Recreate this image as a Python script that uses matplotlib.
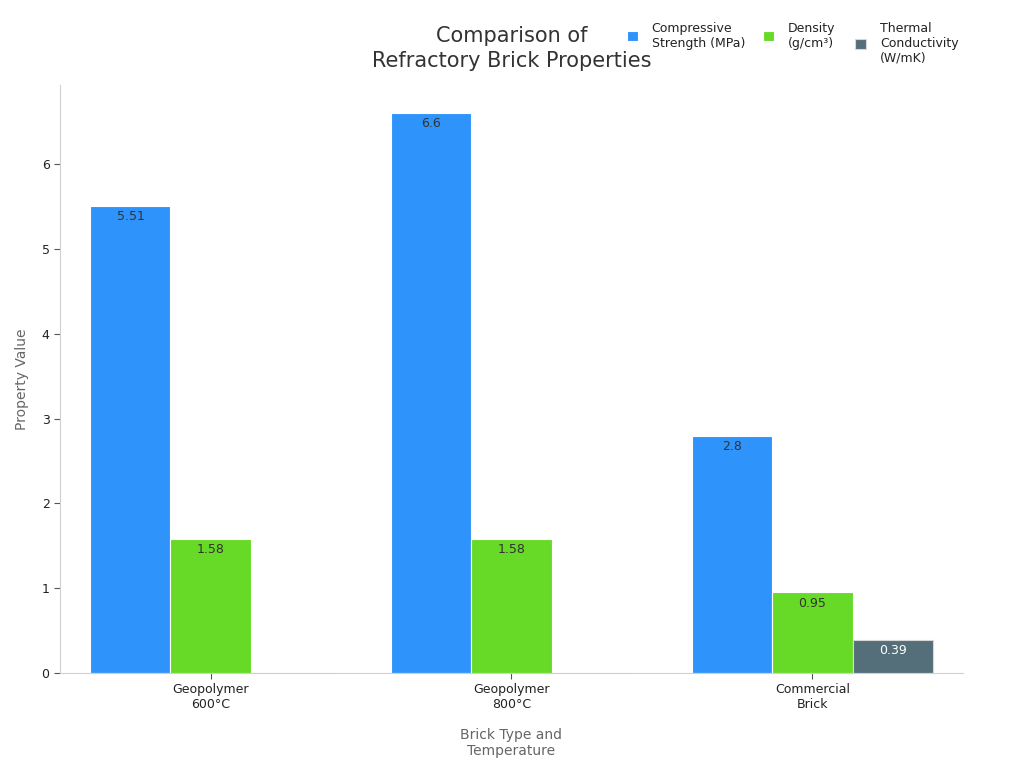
import numpy as np
import matplotlib.pyplot as plt

categories = ['Geopolymer\n600°C', 'Geopolymer\n800°C', 'Commercial\nBrick']
series_names = ['Compressive\nStrength (MPa)', 'Density\n(g/cm³)', 'Thermal\nConductivity\n(W/mK)']
strength = [5.51, 6.6, 2.8]
density = [1.58, 1.58, 0.95]
conductivity = [0, 0, 0.39]
colors = ['#2E93FA', '#66DA26', '#546E7A']

fig, ax = plt.subplots(figsize=(10.24, 7.68), dpi=100)
fig.subplots_adjust(left=0.0586, right=0.9404, top=0.889, bottom=0.1237)

x = np.arange(len(categories))
w = 0.266
values = [strength, density, conductivity]
handles = []
for i, (vals, name, c) in enumerate(zip(values, series_names, colors)):
    bars = ax.bar(x + (i - 1) * w, vals, w, color=c, label=name,
                  edgecolor='#d8d8d8' if i == 2 else 'white', linewidth=0.8)
    handles.append(bars)
    for b, v in zip(bars, vals):
        if v == 0:
            continue
        tc = 'white' if i == 2 else '#333333'
        ax.text(b.get_x() + b.get_width() / 2, v - 0.05, '%g' % v,
                ha='center', va='top', fontsize=9, color=tc)

ax.set_xlim(-0.5, 2.5)
ax.set_ylim(0, 6.93)
ax.set_xticks(x)
ax.set_xticklabels(categories, fontsize=9)
ax.set_yticks(range(7))
ax.tick_params(axis='y', labelsize=9)
ax.tick_params(colors='#555555', length=4)
for t in ax.get_yticklabels() + ax.get_xticklabels():
    t.set_color('#222222')
for s in ['top', 'right']:
    ax.spines[s].set_visible(False)
for s in ['left', 'bottom']:
    ax.spines[s].set_color('#d0d0d0')

ax.set_xlabel('Brick Type and\nTemperature', fontsize=10, color='#666666', labelpad=12)
ax.set_ylabel('Property Value', fontsize=10, color='#666666', labelpad=9)
fig.text(0.5, 0.937, 'Comparison of\nRefractory Brick Properties', ha='center', va='center',
         fontsize=15, color='#333333', linespacing=1.3)

# one legend per entry so the texts line up at the top
leg_x = [0.612, 0.745, 0.835]
for h, name, lx in zip(handles, series_names, leg_x):
    fig.legend([h], [name], loc='upper left', bbox_to_anchor=(lx, 0.972),
               frameon=False, fontsize=9, handlelength=0.9, handleheight=0.9,
               handletextpad=1.1, borderpad=0, borderaxespad=0, labelcolor='#222222')

fig.savefig('out.png', dpi=100)
